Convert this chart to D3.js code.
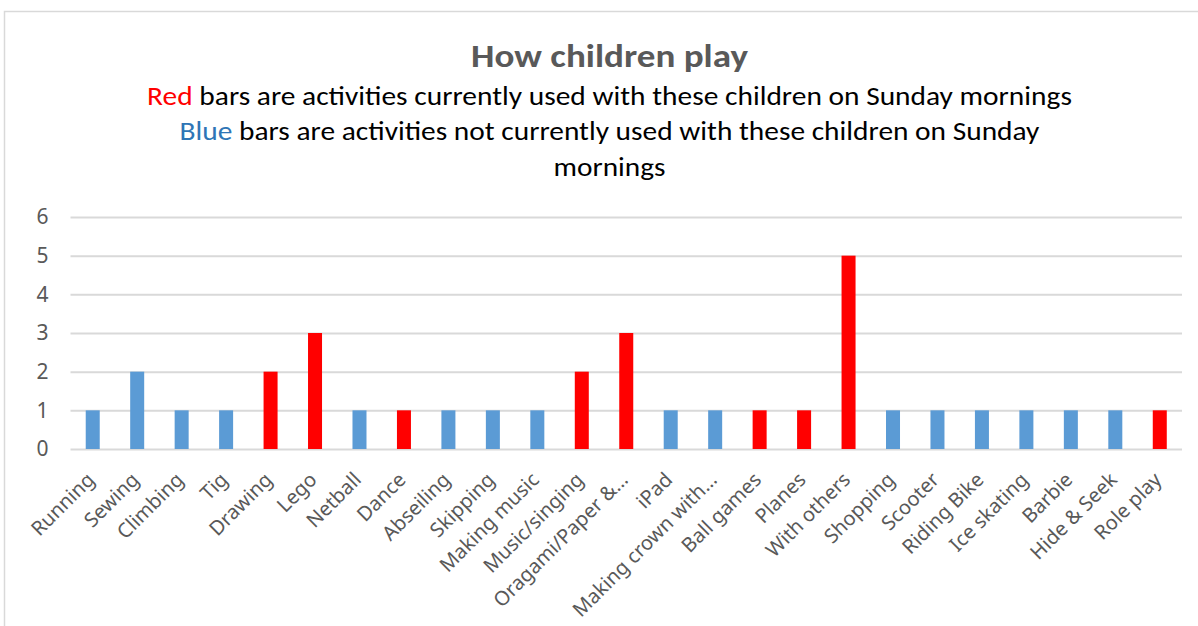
<!DOCTYPE html>
<html>
<head>
<meta charset="utf-8">
<script src="https://cdn.jsdelivr.net/npm/d3@7"></script>
<style>
  html, body { margin: 0; padding: 0; background: #fff; }
  svg { display: block; }
</style>
</head>
<body>
<svg id="chart" width="1198" height="626"></svg>
<script>
// activities, counts, and whether each one is used on Sunday mornings
const activities = [
  'Running', 'Sewing', 'Climbing', 'Tig', 'Drawing', 'Lego', 'Netball', 'Dance',
  'Abseiling', 'Skipping', 'Making music', 'Music/singing', 'Oragami/Paper &…',
  'iPad', 'Making crown with…', 'Ball games', 'Planes', 'With others', 'Shopping',
  'Scooter', 'Riding Bike', 'Ice skating', 'Barbie', 'Hide & Seek', 'Role play'
];
const counts = [1, 2, 1, 1, 2, 3, 1, 1, 1, 1, 1, 2, 3, 1, 1, 1, 1, 5, 1, 1, 1, 1, 1, 1, 1];
const usedNow = [false, false, false, false, true, true, false, true, false, false, false, true, true,
  false, false, true, true, true, false, false, false, false, false, false, true];
const yTicks = [0, 1, 2, 3, 4, 5, 6];

const RED = '#ff0000';
const BLUE = '#5b9bd5';
const GRID = '#d9d9d9';
const LABEL = '#595959';
const UI_FONT = '"Segoe UI", "Noto Sans", "Open Sans", sans-serif';
const TITLE_FONT = 'Carlito, Calibri, Lato, sans-serif';

const svg = d3.select('#chart');

// outer chart border (runs off the right and bottom edges)
svg.append('rect')
  .attr('x', 4.5).attr('y', 11.5)
  .attr('width', 1300).attr('height', 700)
  .style('fill', 'none')
  .style('stroke', GRID)
  .style('stroke-width', 1.5);

const plot = { left: 70.5, right: 1182, top: 217, bottom: 449 };

const x = d3.scaleBand()
  .domain(activities)
  .range([plot.left, plot.right])
  .paddingInner(0.685)
  .paddingOuter(0.3425);

const y = d3.scaleLinear()
  .domain([0, 6])
  .range([plot.bottom, plot.top]);

// gridlines + y labels
const yAxis = d3.axisLeft(y)
  .tickValues(yTicks)
  .tickSize(-(plot.right - plot.left))
  .tickPadding(22)
  .tickFormat(d3.format('d'));

const yg = svg.append('g')
  .attr('transform', `translate(${plot.left},0)`)
  .call(yAxis);
yg.select('.domain').remove();
yg.selectAll('.tick line')
  .style('stroke', GRID)
  .style('stroke-width', 2);
yg.selectAll('.tick text')
  .style('font-family', UI_FONT)
  .style('font-size', '21px')
  .style('fill', LABEL);

// bars
svg.append('g')
  .selectAll('rect')
  .data(activities)
  .join('rect')
  .attr('x', (d) => x(d))
  .attr('width', x.bandwidth())
  .attr('y', (d, i) => y(counts[i]))
  .attr('height', (d, i) => y(0) - y(counts[i]))
  .style('fill', (d, i) => (usedNow[i] ? RED : BLUE));

// category labels, rotated
const xAxis = d3.axisBottom(x).tickSize(0).tickPadding(0);
const xg = svg.append('g')
  .attr('transform', `translate(0,${plot.bottom})`)
  .call(xAxis);
xg.select('.domain').remove();
xg.selectAll('.tick text')
  .attr('text-anchor', 'end')
  .attr('y', 0)
  .attr('dy', '0.35em')
  .attr('transform', 'translate(-2,27) rotate(-45)')
  .style('font-family', UI_FONT)
  .style('font-size', '20px')
  .style('fill', LABEL);

// title block; text is squeezed horizontally to the narrow width of the original face
function fitText(sel, cx, cy, targetWidth) {
  const w = sel.node().getComputedTextLength();
  sel.attr('transform', `translate(${cx},${cy}) scale(${targetWidth / w},1)`);
}

const title = svg.append('text')
  .attr('text-anchor', 'middle')
  .style('font-family', TITLE_FONT)
  .style('font-weight', 'bold')
  .style('font-size', '33px')
  .style('fill', LABEL)
  .text('How children play');
fitText(title, 609.5, 67, 277);

const subtitleLines = [
  { lead: 'Red', leadColor: RED, rest: ' bars are activities currently used with these children on Sunday mornings', y: 105, w: 925 },
  { lead: 'Blue', leadColor: '#2e75b6', rest: ' bars are activities not currently used with these children on Sunday', y: 140, w: 860 },
  { lead: '', leadColor: '#000', rest: 'mornings', y: 176, w: 112 }
];

subtitleLines.forEach((line) => {
  const t = svg.append('text')
    .attr('text-anchor', 'middle')
    .style('font-family', TITLE_FONT)
    .style('font-size', '26px')
    .style('fill', '#000');
  if (line.lead) {
    t.append('tspan').style('fill', line.leadColor).text(line.lead);
  }
  t.append('tspan').text(line.rest);
  fitText(t, 609.5, line.y, line.w);
});
</script>
</body>
</html>
